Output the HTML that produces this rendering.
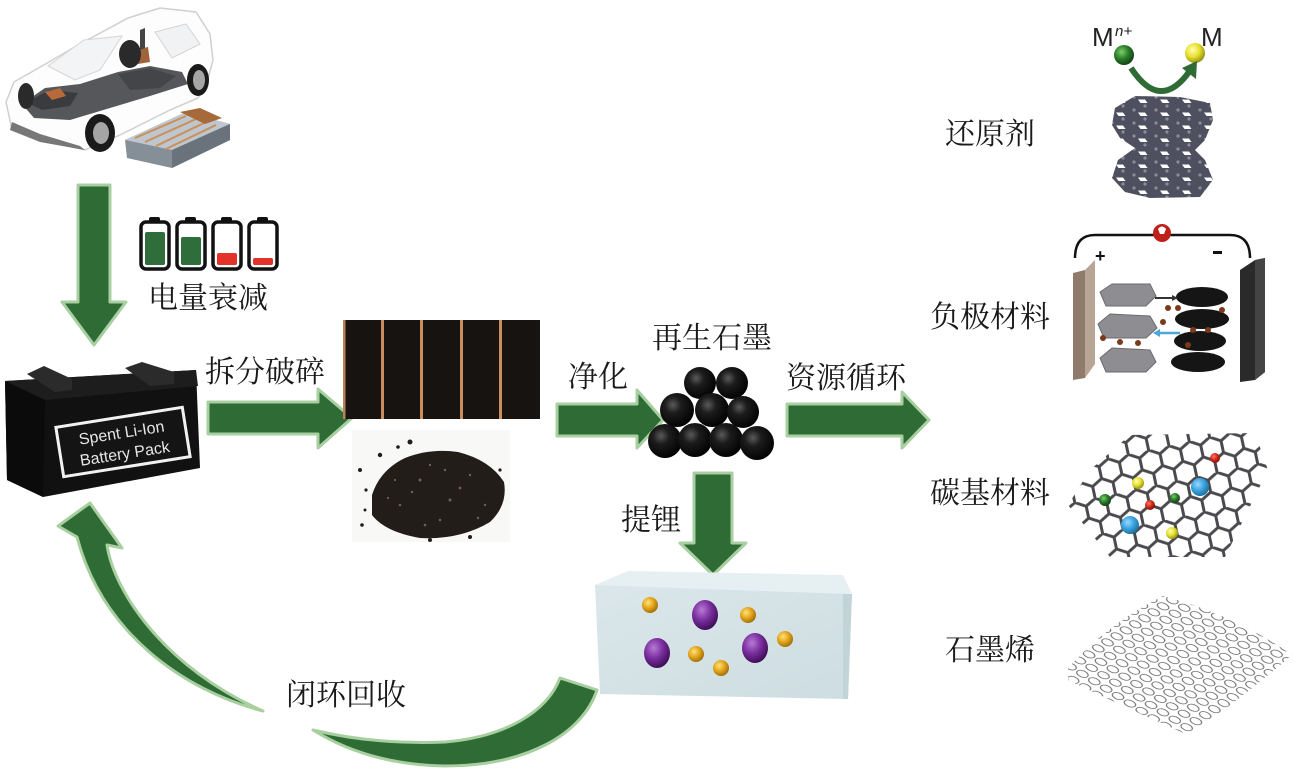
<!DOCTYPE html>
<html><head><meta charset="utf-8"><style>
html,body{margin:0;padding:0;background:#fff;}
svg{display:block;}
.cn{font-family:"Liberation Serif","Noto Serif CJK SC","Noto Serif CJK JP","Noto Sans CJK SC",serif;font-size:30px;fill:#1a1a1a;}
</style></head><body>
<svg width="1299" height="773" viewBox="0 0 1299 773" xmlns="http://www.w3.org/2000/svg">
<defs>
  <radialGradient id="bball" cx="0.38" cy="0.35" r="0.7">
    <stop offset="0" stop-color="#5a5a5a"/><stop offset="0.35" stop-color="#1c1c1c"/><stop offset="1" stop-color="#000"/>
  </radialGradient>
  <radialGradient id="gold" cx="0.38" cy="0.35" r="0.7">
    <stop offset="0" stop-color="#ffe27a"/><stop offset="0.5" stop-color="#e3a51c"/><stop offset="1" stop-color="#9a6a05"/>
  </radialGradient>
  <radialGradient id="purp" cx="0.38" cy="0.33" r="0.7">
    <stop offset="0" stop-color="#b77ad6"/><stop offset="0.5" stop-color="#7a2f9e"/><stop offset="1" stop-color="#3c0c55"/>
  </radialGradient>
  <radialGradient id="gball" cx="0.38" cy="0.35" r="0.7">
    <stop offset="0" stop-color="#7fcf6a"/><stop offset="0.5" stop-color="#2a7d2a"/><stop offset="1" stop-color="#0f3d10"/>
  </radialGradient>
  <radialGradient id="yball" cx="0.38" cy="0.35" r="0.7">
    <stop offset="0" stop-color="#ffffb0"/><stop offset="0.5" stop-color="#e8e030"/><stop offset="1" stop-color="#8a8a10"/>
  </radialGradient>
  <radialGradient id="blueb" cx="0.38" cy="0.35" r="0.7">
    <stop offset="0" stop-color="#9ad8ff"/><stop offset="0.5" stop-color="#3ba3e0"/><stop offset="1" stop-color="#1a6a9a"/>
  </radialGradient>
  <radialGradient id="redb" cx="0.38" cy="0.35" r="0.7">
    <stop offset="0" stop-color="#ff7a6a"/><stop offset="0.5" stop-color="#d02a1a"/><stop offset="1" stop-color="#7a0a05"/>
  </radialGradient>
  <radialGradient id="grnb" cx="0.38" cy="0.35" r="0.7">
    <stop offset="0" stop-color="#7acf6a"/><stop offset="0.5" stop-color="#2a7a2a"/><stop offset="1" stop-color="#0f3a10"/>
  </radialGradient>
  <linearGradient id="boxfront" x1="0" y1="0" x2="1" y2="1">
    <stop offset="0" stop-color="#dbe7ea"/><stop offset="1" stop-color="#cddde1"/>
  </linearGradient>
  <pattern id="hex" width="20.78" height="36" patternUnits="userSpaceOnUse" patternTransform="translate(1070,430) rotate(-12)">
    <path d="M10.39,0 L20.78,6 L20.78,18 L10.39,24 L0,18 L0,6 Z M10.39,24 L10.39,36" fill="none" stroke="#4a4a4e" stroke-width="3" stroke-linejoin="round"/>
  </pattern>
  <pattern id="mesh" width="14" height="10" patternUnits="userSpaceOnUse" patternTransform="translate(1068,600) rotate(32) skewX(-25)">
    <ellipse cx="7" cy="5" rx="5.6" ry="3.4" fill="none" stroke="#6a6a6a" stroke-width="0.9"/>
  </pattern>
  <pattern id="graph" width="22" height="13" patternUnits="userSpaceOnUse" patternTransform="translate(1110,95)">
    <rect width="22" height="13" fill="#4e5060"/>
    <polygon points="6,4.5 13,4.5 15.5,8 8.5,8" fill="#fff"/>
    <circle cx="2" cy="2" r="1.6" fill="#8a8c9a"/>
    <circle cx="13" cy="11" r="1.6" fill="#8a8c9a"/>
  </pattern>
  <clipPath id="latclip"><polygon points="1130,435 1255,433 1268,470 1225,557 1110,557 1068,505 1090,470"/></clipPath>
  <clipPath id="meshclip"><path d="M1068,668 Q1110,622 1163,596 Q1235,615 1292,655 Q1240,700 1188,735 Q1120,705 1068,680 Z"/></clipPath>
  <clipPath id="grclip"><path d="M1115,108 L1135,96 L1180,97 L1210,103 L1213,120 L1205,140 L1195,150 L1205,160 L1213,180 L1200,197 L1150,198 L1125,192 L1112,178 L1118,160 L1135,148 L1120,138 L1112,125 Z"/></clipPath>
</defs>

<rect width="1299" height="773" fill="#fff"/>

<!-- ===== CAR ===== -->
<g>
  <path d="M6,102 L14,82 L42,66 L80,44 L128,18 L160,8 L196,12 L210,34 L213,60 L206,86 L198,98 L170,110 L120,135 L85,150 L40,140 L12,130 Z" fill="#fdfdfd" stroke="#d0d0d0" stroke-width="1.5"/>
  <path d="M48,66 L84,40 L122,36 L100,70 L75,80 Z" fill="#f2f4f5" stroke="#d5d5d5" stroke-width="1"/>
  <path d="M155,32 L186,24 L200,44 L172,58 Z" fill="#f0f2f3" stroke="#d5d5d5" stroke-width="1"/>
  <path d="M22,104 L45,88 L80,84 L118,72 L150,66 L182,72 L188,84 L150,96 L110,108 L70,120 L34,118 Z" fill="#55575a"/>
  <path d="M26,102 L50,90 L78,93 L70,106 L42,110 Z" fill="#3a3b3d"/>
  <path d="M118,74 L150,68 L176,76 L160,88 L130,90 Z" fill="#444548"/>
  <path d="M45,92 L60,88 L66,96 L52,100 Z" fill="#b86a3a"/>
  <path d="M135,50 L148,47 L150,62 L138,64 Z" fill="#a0643a"/>
  <path d="M140,30 L145,28 L145,48 L140,50 Z" fill="#444"/>
  <ellipse cx="130" cy="54" rx="11" ry="14" fill="#2a2a2a"/>
  <ellipse cx="26" cy="96" rx="8" ry="13" fill="#2a2a2a"/>
  <ellipse cx="100" cy="133" rx="15" ry="19" fill="#1a1a1a"/>
  <ellipse cx="101" cy="133" rx="8" ry="11" fill="#a5a5a5"/>
  <ellipse cx="198" cy="80" rx="11" ry="16" fill="#1a1a1a"/>
  <ellipse cx="199" cy="80" rx="6" ry="10" fill="#a5a5a5"/>
  <path d="M12,122 L40,134 L80,146 L85,150 L40,142 L10,130 Z" fill="#777"/>
  <!-- battery pack -->
  <path d="M125,140 L186,112 L230,124 L230,140 L172,168 L127,158 Z" fill="#858f98"/>
  <path d="M125,140 L186,112 L230,124 L172,150 Z" fill="#bfc6cd"/>
  <path d="M135,138 L186,116 M145,142 L196,119 M156,146 L206,122 M166,149 L216,125" stroke="#c9905a" stroke-width="2"/>
  <path d="M172,150 L230,124 L230,140 L172,168 Z" fill="#6a737b"/>
  <path d="M180,112 L200,108 L222,118 L205,124 Z" fill="#a66a3a"/>
</g>

<!-- ===== Down arrow 1 ===== -->
<polygon points="78,185 110,185 110,302 126,302 94,345 62,302 78,302" fill="#2f6b34" stroke="#a8cfa0" stroke-width="3" stroke-linejoin="round"/>

<!-- battery icons -->
<g>
  <rect x="149" y="217" width="11" height="7" rx="2" fill="#111"/>
  <rect x="141" y="222" width="28" height="47" rx="5" fill="#fff" stroke="#111" stroke-width="3.5"/>
  <rect x="145" y="232" width="20" height="33" rx="2" fill="#2f6e3a"/>
  <rect x="185" y="217" width="11" height="7" rx="2" fill="#111"/>
  <rect x="177" y="222" width="28" height="47" rx="5" fill="#fff" stroke="#111" stroke-width="3.5"/>
  <rect x="181" y="237" width="20" height="28" rx="2" fill="#2f6e3a"/>
  <rect x="221" y="217" width="11" height="7" rx="2" fill="#111"/>
  <rect x="213" y="222" width="28" height="47" rx="5" fill="#fff" stroke="#111" stroke-width="3.5"/>
  <rect x="217" y="253" width="20" height="12" rx="2" fill="#e3322a"/>
  <rect x="257" y="217" width="11" height="7" rx="2" fill="#111"/>
  <rect x="249" y="222" width="28" height="47" rx="5" fill="#fff" stroke="#111" stroke-width="3.5"/>
  <rect x="253" y="258" width="20" height="7" rx="2" fill="#e3322a"/>
</g>
<text class="cn" x="148" y="308">电量衰减</text>

<!-- ===== Battery pack ===== -->
<g>
  <path d="M5,381 L196,370 L200,468 L43,497 L7,480 Z" fill="#121111"/>
  <path d="M5,381 L196,370 L198,386 L45,400 Z" fill="#1e1d1d"/>
  <path d="M5,381 L45,400 L43,497 L7,480 Z" fill="#0b0b0b"/>
  <path d="M27,374 L44,366 L72,379 L72,390 L55,392 Z" fill="#2c2b2b"/>
  <path d="M125,368 L142,362 L174,372 L174,384 L150,386 Z" fill="#2c2b2b"/>
  <g transform="rotate(-9 123 442)">
    <rect x="59" y="417" width="128" height="50" fill="#141414" stroke="#f2f2f2" stroke-width="3"/>
    <text x="123" y="438" text-anchor="middle" font-family="Liberation Sans, sans-serif" font-size="16" fill="#e6e6e6">Spent Li-Ion</text>
    <text x="123" y="459" text-anchor="middle" font-family="Liberation Sans, sans-serif" font-size="16" fill="#e6e6e6">Battery Pack</text>
  </g>
</g>

<!-- arrow 1 -->
<polygon points="208,402 318,402 318,389 352,418 318,448 318,434 208,434" fill="#2f6b34" stroke="#a8cfa0" stroke-width="3" stroke-linejoin="round"/>
<text class="cn" x="205" y="382">拆分破碎</text>

<!-- slabs -->
<g>
  <rect x="343" y="320" width="197" height="99" fill="#171310"/>
  <rect x="343" y="320" width="2.5" height="99" fill="#b9805a"/>
  <rect x="381" y="320" width="3" height="99" fill="#c98d5e"/>
  <rect x="420" y="320" width="3" height="99" fill="#c98d5e"/>
  <rect x="460" y="320" width="3" height="99" fill="#c98d5e"/>
  <rect x="499" y="320" width="3" height="99" fill="#c98d5e"/>
</g>

<!-- powder -->
<g>
  <rect x="352" y="430" width="158" height="112" fill="#f8f8f6"/>
  <path d="M372,495 Q380,470 405,458 Q430,448 458,452 Q490,460 504,482 Q508,505 490,522 Q460,540 420,538 Q385,532 372,515 Z" fill="#221d18"/>
  <g fill="#221d18">
    <circle cx="360" cy="470" r="2"/><circle cx="366" cy="490" r="1.6"/><circle cx="380" cy="455" r="2.2"/>
    <circle cx="398" cy="447" r="1.8"/><circle cx="410" cy="442" r="2.5"/><circle cx="365" cy="510" r="1.5"/>
    <circle cx="470" cy="537" r="2"/><circle cx="430" cy="540" r="2"/><circle cx="500" cy="470" r="1.6"/>
    <circle cx="362" cy="525" r="1.8"/>
  </g>
  <g fill="#6b625a">
    <circle cx="420" cy="480" r="1.5"/><circle cx="450" cy="500" r="1.5"/><circle cx="470" cy="475" r="1.2"/>
    <circle cx="400" cy="505" r="1.3"/><circle cx="440" cy="520" r="1.3"/><circle cx="485" cy="505" r="1.2"/>
    <circle cx="430" cy="465" r="1.2"/><circle cx="395" cy="480" r="1.1"/><circle cx="412" cy="492" r="1.2"/>
    <circle cx="460" cy="488" r="1.4"/><circle cx="478" cy="518" r="1.2"/><circle cx="445" cy="470" r="1.2"/>
    <circle cx="388" cy="498" r="1.1"/><circle cx="425" cy="525" r="1.3"/>
  </g>
</g>

<!-- arrow 净化 -->
<polygon points="557,404 637,404 637,390 663,420 637,448 637,436 557,436" fill="#2f6b34" stroke="#a8cfa0" stroke-width="3" stroke-linejoin="round"/>
<text class="cn" x="568" y="387">净化</text>

<!-- graphite balls -->
<text class="cn" x="652" y="348">再生石墨</text>
<g>
  <circle cx="700" cy="383" r="16" fill="url(#bball)"/>
  <circle cx="732" cy="383" r="16" fill="url(#bball)"/>
  <circle cx="677" cy="410" r="17" fill="url(#bball)"/>
  <circle cx="712" cy="410" r="17" fill="url(#bball)"/>
  <circle cx="743" cy="412" r="16" fill="url(#bball)"/>
  <circle cx="665" cy="441" r="17" fill="url(#bball)"/>
  <circle cx="695" cy="440" r="17" fill="url(#bball)"/>
  <circle cx="726" cy="440" r="17" fill="url(#bball)"/>
  <circle cx="757" cy="443" r="17" fill="url(#bball)"/>
</g>

<!-- arrow 资源循环 -->
<polygon points="787,404 902,404 902,392 929,420 902,448 902,436 787,436" fill="#2f6b34" stroke="#a8cfa0" stroke-width="3" stroke-linejoin="round"/>
<text class="cn" x="786" y="388">资源循环</text>

<!-- down arrow 提锂 -->
<polygon points="694,473 732,473 732,543 746,543 713,575 680,543 694,543" fill="#2f6b34" stroke="#a8cfa0" stroke-width="3" stroke-linejoin="round"/>
<text class="cn" x="621" y="530">提锂</text>

<!-- Li box -->
<g>
  <polygon points="595,585 628,571 843,575 852,594" fill="#e6eff1"/>
  <polygon points="595,585 852,594 848,699 600,694" fill="url(#boxfront)"/>
  <polygon points="843,594 852,594 848,699 843,699" fill="#c3d4d8"/>
  <ellipse cx="650" cy="605" rx="8" ry="8" fill="url(#gold)"/>
  <ellipse cx="705" cy="615" rx="13" ry="15" fill="url(#purp)"/>
  <ellipse cx="748" cy="615" rx="8" ry="8" fill="url(#gold)"/>
  <ellipse cx="657" cy="653" rx="13" ry="15" fill="url(#purp)"/>
  <ellipse cx="696" cy="654" rx="8" ry="8" fill="url(#gold)"/>
  <ellipse cx="755" cy="648" rx="13" ry="15" fill="url(#purp)"/>
  <ellipse cx="785" cy="639" rx="8" ry="8" fill="url(#gold)"/>
  <ellipse cx="721" cy="668" rx="8" ry="8" fill="url(#gold)"/>
</g>

<!-- closed-loop arcs -->
<path d="M597,690 C582,735 525,766 445,766 C385,765 342,748 313,730 C350,739 395,744 445,742 C505,737 547,712 560,678 Z" fill="#2f6b34" stroke="#a8cfa0" stroke-width="3" stroke-linejoin="round"/>
<path d="M90,503 L122,548 L107,545 C114,592 165,668 263,711 C182,690 102,632 77,537 L58,526 Z" fill="#2f6b34" stroke="#a8cfa0" stroke-width="3" stroke-linejoin="round"/>
<text class="cn" x="286" y="705">闭环回收</text>

<!-- ===== Right column ===== -->
<g font-family="Liberation Sans, sans-serif" fill="#222">
  <text x="1092" y="46" font-size="26">M</text>
  <text x="1115" y="36" font-size="15" font-style="italic">n+</text>
  <text x="1201" y="46" font-size="26">M</text>
</g>
<circle cx="1124" cy="55" r="10" fill="url(#gball)"/>
<circle cx="1195" cy="53" r="10" fill="url(#yball)"/>
<path d="M1131,68 Q1160,112 1189,72" fill="none" stroke="#2f6b34" stroke-width="6"/>
<polygon points="1197,61 1182,68 1196,79" fill="#2f6b34"/>
<g clip-path="url(#grclip)">
  <rect x="1105" y="90" width="115" height="112" fill="url(#graph)"/>
</g>
<text class="cn" x="945" y="144">还原剂</text>

<!-- battery schematic -->
<g>
  <path d="M1075,258 Q1075,235 1095,235 L1230,235 Q1250,235 1250,258" fill="none" stroke="#111" stroke-width="2.5"/>
  <circle cx="1162" cy="233" r="9" fill="#c0201a"/>
  <path d="M1158,229 Q1162,224 1166,229 L1164,234 L1160,234 Z" fill="#fff"/>
  <text x="1095" y="262" font-family="Liberation Sans, sans-serif" font-size="18" font-weight="bold" fill="#111">+</text>
  <rect x="1213" y="251" width="9" height="3" fill="#111"/>
  <polygon points="1085,270 1095,260 1095,364 1085,378" fill="#b9a596"/>
  <polygon points="1073,273 1085,270 1085,378 1073,380" fill="#8f7a6b"/>
  <polygon points="1240,270 1255,260 1265,258 1265,372 1255,380 1240,382" fill="#2a2a2a"/>
  <polygon points="1255,260 1265,258 1265,372 1255,380" fill="#444"/>
  <g fill="#8e8e92" stroke="#6a6a70" stroke-width="1">
    <path d="M1100,292 L1112,284 L1150,284 L1156,296 L1146,306 L1106,306 Z"/>
    <path d="M1098,324 L1110,314 L1150,316 L1157,328 L1146,338 L1104,338 Z"/>
    <path d="M1100,358 L1112,348 L1150,350 L1156,362 L1146,372 L1106,372 Z"/>
  </g>
  <g fill="#151515">
    <ellipse cx="1202" cy="297" rx="26" ry="10"/>
    <ellipse cx="1202" cy="319" rx="27" ry="10"/>
    <ellipse cx="1200" cy="341" rx="26" ry="10"/>
    <ellipse cx="1198" cy="362" rx="27" ry="10"/>
  </g>
  <path d="M1155,298 L1174,298" stroke="#333" stroke-width="2"/>
  <polygon points="1178,298 1172,295 1172,301" fill="#333"/>
  <path d="M1180,333 L1158,333" stroke="#4aa8d8" stroke-width="2.5"/>
  <polygon points="1153,333 1160,329 1160,337" fill="#4aa8d8"/>
  <g fill="#7a3a1a">
    <circle cx="1168" cy="308" r="3"/><circle cx="1178" cy="308" r="3"/><circle cx="1163" cy="322" r="3"/>
    <circle cx="1103" cy="338" r="3"/><circle cx="1120" cy="342" r="3"/><circle cx="1138" cy="343" r="3"/>
    <circle cx="1222" cy="310" r="3"/><circle cx="1193" cy="330" r="3"/><circle cx="1208" cy="330" r="3"/>
    <circle cx="1188" cy="345" r="3"/>
  </g>
</g>
<text class="cn" x="930" y="327">负极材料</text>

<!-- carbon lattice -->
<g clip-path="url(#latclip)">
  <rect x="1060" y="425" width="215" height="140" fill="url(#hex)"/>
</g>
<circle cx="1215" cy="458" r="5" fill="url(#redb)"/>
<circle cx="1138" cy="483" r="6" fill="url(#yball)"/>
<circle cx="1200" cy="487" r="9" fill="url(#blueb)"/>
<circle cx="1105" cy="500" r="6" fill="url(#grnb)"/>
<circle cx="1150" cy="505" r="5" fill="url(#redb)"/>
<circle cx="1175" cy="498" r="5" fill="url(#grnb)"/>
<circle cx="1130" cy="525" r="9" fill="url(#blueb)"/>
<circle cx="1172" cy="533" r="6" fill="url(#yball)"/>
<text class="cn" x="930" y="503">碳基材料</text>

<!-- graphene mesh -->
<g clip-path="url(#meshclip)">
  <rect x="1060" y="590" width="240" height="150" fill="url(#mesh)"/>
</g>
<text class="cn" x="945" y="660">石墨烯</text>
</svg>
</body></html>
